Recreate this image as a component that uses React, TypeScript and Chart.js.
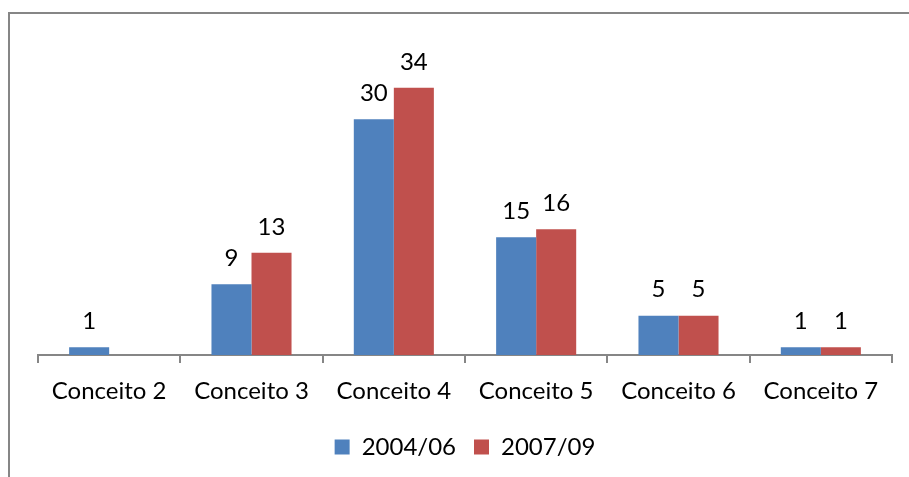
import React, { useEffect, useRef } from "react";
import { Chart, registerables } from "chart.js";

Chart.register(...registerables);

const categories = ["Conceito 2", "Conceito 3", "Conceito 4", "Conceito 5", "Conceito 6", "Conceito 7"];
const series2004 = [1, 9, 30, 15, 5, 1];
const series2007: (number | null)[] = [null, 13, 34, 16, 5, 1];
const seriesNames = ["2004/06", "2007/09"];

const FONT = "Lato, 'Open Sans', sans-serif";

const valueLabels = {
  id: "valueLabels",
  afterDatasetsDraw(chart: any) {
    const ctx = chart.ctx;
    ctx.save();
    ctx.font = `24px ${FONT}`;
    ctx.fillStyle = "#000";
    ctx.textAlign = "center";
    ctx.textBaseline = "middle";
    chart.data.datasets.forEach((ds: any, i: number) => {
      const meta = chart.getDatasetMeta(i);
      meta.data.forEach((bar: any, j: number) => {
        const v = ds.data[j];
        if (v === null || v === undefined) return;
        ctx.fillText(String(v), bar.x, bar.y - 26);
      });
    });
    ctx.restore();
  },
};

export default function App() {
  const ref = useRef<HTMLCanvasElement>(null);
  useEffect(() => {
    const chart = new Chart(ref.current!, {
      type: "bar",
      data: {
        labels: categories,
        datasets: [
          { label: seriesNames[0], data: series2004, backgroundColor: "#4F81BD", barPercentage: 1, categoryPercentage: 0.5625 },
          { label: seriesNames[1], data: series2007, backgroundColor: "#C0504D", barPercentage: 1, categoryPercentage: 0.5625 },
        ],
      },
      options: {
        responsive: false,
        animation: false,
        layout: { padding: { left: 38, right: 17, top: 80, bottom: 8 } },
        scales: {
          x: {
            grid: { display: true, drawOnChartArea: false, tickLength: 8, color: "#868686", lineWidth: 2 },
            border: { display: true, color: "#868686", width: 2 },
            ticks: { color: "#000", font: { family: FONT, size: 24 }, padding: 14 },
            afterFit: (s: any) => { s.height = 62; },
          },
          y: {
            display: false,
            min: 0,
            max: 35,
          },
        },
        plugins: {
          legend: {
            position: "bottom",
            labels: { boxWidth: 15, boxHeight: 15, color: "#000", font: { family: FONT, size: 24 }, padding: 18 },
          },
          tooltip: { enabled: false },
        },
      },
      plugins: [valueLabels],
    });
    return () => chart.destroy();
  }, []);
  return (
    <div style={{ position: "fixed", left: 0, top: 0, width: 909, height: 477, overflow: "hidden", background: "#fff" }}>
      <div style={{ position: "absolute", left: 8, top: 12, width: 910, height: 480, border: "2px solid #868686", boxSizing: "border-box" }} />
      <canvas ref={ref} width={909} height={477} style={{ position: "absolute", left: 0, top: 0 }} />
    </div>
  );
}
